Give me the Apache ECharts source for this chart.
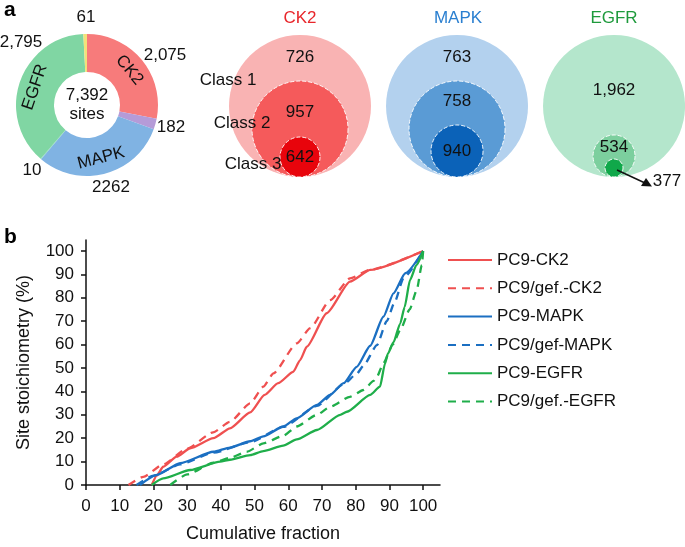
<!DOCTYPE html>
<html><head><meta charset="utf-8">
<script src="https://cdn.jsdelivr.net/npm/echarts@6/dist/echarts.min.js"></script>
<style>html,body{margin:0;padding:0;background:#fff}#c{width:685px;height:547px}</style>
</head><body><div id="c"></div>
<script>
const FONT = '"Liberation Sans", Arial, Helvetica, sans-serif';

// ---- Panel a: donut ----
const donutNames  = ['CK2', 'CK2/MAPK', 'MAPK', 'MAPK/EGFR', 'EGFR', 'EGFR/CK2'];
const donutValues = [2075, 182, 2262, 10, 2795, 61];
const donutLabels = ['2,075', '182', '2262', '10', '2,795', '61'];
const donutTotal  = '7,392';

// ---- Panel a: nested classes ----
const kinases = ['CK2', 'MAPK', 'EGFR'];
const class1  = [726, 763, 1962];
const class2  = [957, 758, 534];
const class3  = [642, 940, 377];
const classNames = ['Class 1', 'Class 2', 'Class 3'];

// ---- Panel b: cumulative curves [cumulative fraction %, stoichiometry %] ----
const xTicks = [0, 10, 20, 30, 40, 50, 60, 70, 80, 90, 100];
const yTicks = [0, 10, 20, 30, 40, 50, 60, 70, 80, 90, 100];
const seriesNames = ['PC9-CK2', 'PC9/gef.-CK2', 'PC9-MAPK', 'PC9/gef-MAPK', 'PC9-EGFR', 'PC9/gef.-EGFR'];
const pc9CK2 = [[19.5,0],[21,4],[22.9,7.8],[26.9,12.1],[30.9,15.7],[37.8,20],[42.7,24.2],[48.7,31],[53,38.5],[57,43.5],[61.5,48.4],[63.5,53.4],[65.5,59.1],[71.4,73.4],[78.3,86.9],[84.3,91.9],[100,100]];
const gefCK2 = [[12.6,0],[17,3.5],[22.9,8.8],[29.9,15.5],[37.7,22.5],[42.7,27],[48.7,34.9],[52.6,42],[55.6,47.7],[62.5,60.5],[66.5,67],[72.4,79],[78.3,88.3],[84.3,92],[100,100]];
const pc9MAPK = [[16,0],[21,4.3],[27.9,9.3],[37.8,14.2],[42.7,16],[48.7,18.7],[52.6,20.8],[58.5,25],[62.5,28.5],[68.5,34.2],[72.4,38.5],[76.4,43.5],[80.3,50.5],[84.3,59.5],[88.2,71.9],[91.2,81.9],[94.7,90.5],[100,100]];
const gefMAPK = [[15,0],[20,4],[27.9,8.8],[37.8,13.8],[48.7,18.3],[58.5,24.8],[68.5,33.8],[76.4,43],[80.3,47.5],[82.3,51],[86.3,59.8],[89.2,70],[91.5,78],[94.2,88.5],[100,100]];
const pc9EGFR = [[19.5,0],[22.9,2.8],[30.9,6.4],[39.8,10],[42.7,10.8],[48.7,12.8],[52.6,14.5],[58.5,16.8],[62.5,19.5],[68.5,23.5],[75.4,30],[77.4,31.3],[84.3,38.5],[87.2,42],[88.7,52],[89.5,56],[91.2,61],[93.2,69],[94.5,76],[96.1,87.6],[98,94],[100,100]];
const gefEGFR = [[25,0],[30,4.5],[37.8,9.5],[42.7,11.6],[47.7,14.2],[52.6,17.8],[58.5,21],[62.5,25],[68.5,30],[72.4,33.4],[78.3,37.7],[82.3,40.6],[85.3,44.5],[86.3,46.3],[88.2,52],[91,60],[93.2,66.2],[96,75],[98.1,83.3],[99.6,94],[100,100]];

// ---------- styles / layout ----------
const donutColors = ['#f77b7b', '#b59bd8', '#80b3e3', '#7fd0c4', '#80d6a3', '#f2e27a'];
const donutLabelPos = [[165,55],[171,127],[111,187],[32,170],[21,42],[86,17]];
const ringColors = [
  ['#f9b3b3', '#b3d1ee', '#b4e6cc'],
  ['#f55a5b', '#5a9bd5', '#7ccf9e'],
  ['#e8040c', '#0b62b8', '#10a84a']
];
const ringRadius = [[71,71,71],[48,48,21],[20,26,9]];
const ringLabelOffset = [[-49,-49,-16],[-17,-28,-9],[0,0,0]];
const titleColors = ['#e8262b', '#2a7fd0', '#1e9a3c'];
const lineColors = ['#ef5050', '#ef5050', '#1b6fc2', '#1b6fc2', '#1fae4a', '#1fae4a'];
const lineData = [pc9CK2, gefCK2, pc9MAPK, gefMAPK, pc9EGFR, gefEGFR];

const fmt = v => v.toLocaleString('en-US');

const classSeries = [class1, class2, class3].map((vals, ci) => ({
  type: 'scatter', name: classNames[ci], xAxisIndex: 1, yAxisIndex: 1, silent: true, z: 3 + ci,
  symbol: 'circle',
  data: kinases.map((k, ki) => ({
    name: k,
    value: [ki, ringRadius[ci][ki]],
    symbolSize: 2 * ringRadius[ci][ki],
    itemStyle: {
      color: ringColors[ci][ki], opacity: 1,
      borderColor: ci === 0 ? 'transparent' : 'rgba(255,255,255,0.9)',
      borderWidth: ci === 0 ? 0 : 1, borderType: 'dashed'
    },
    label: (ci === 2 && ki === 2)
      ? { show: true, formatter: fmt(vals[ki]), position: 'inside', offset: [53, 13], fontSize: 17, color: '#111', fontFamily: FONT }
      : { show: true, formatter: fmt(vals[ki]), position: 'inside', offset: [0, ringLabelOffset[ci][ki]], fontSize: 17, color: '#111', fontFamily: FONT }
  }))
}));

const lineSeries = seriesNames.map((n, i) => ({
  type: 'line', name: n, data: lineData[i], symbol: 'none', showSymbol: false, smooth: 0.2, smoothMonotone: 'x',
  xAxisIndex: 0, yAxisIndex: 0, z: 2,
  lineStyle: { color: lineColors[i], width: 2.3, type: i % 2 === 1 ? [8, 6] : 'solid' },
  itemStyle: { color: lineColors[i] }
}));

const option = {
  animation: false,
  textStyle: { fontFamily: FONT },
  legend: {
    data: seriesNames, orient: 'vertical', left: 442, top: 245,
    itemWidth: 44, itemHeight: 14, itemGap: 8.3,
    itemStyle: { opacity: 0 },
    textStyle: { fontSize: 17, color: '#111', fontFamily: FONT, lineHeight: 20 }
  },
  grid: [
    { left: 86, top: 240, width: 354, height: 245 },
    { left: 221.5, width: 463.5, top: 0, height: 177 }
  ],
  xAxis: [
    { type: 'value', min: 0, max: 105, interval: 10,
      name: 'Cumulative fraction', nameLocation: 'middle', nameGap: 40,
      nameTextStyle: { fontSize: 18, color: '#111', fontFamily: FONT },
      axisLine: { lineStyle: { color: '#111', width: 1.5 } },
      axisTick: { show: true, length: 5, customValues: xTicks, lineStyle: { color: '#111', width: 1.5 } },
      axisLabel: { customValues: xTicks, margin: 13, fontSize: 17, color: '#111', fontFamily: FONT, formatter: v => v > 100 ? '' : v },
      splitLine: { show: false } },
    { type: 'value', gridIndex: 1, min: -0.5, max: 2.452, show: false }
  ],
  yAxis: [
    { type: 'value', min: 0, max: 104.7, interval: 10,
      name: 'Site stoichiometry (%)', nameLocation: 'middle', nameGap: 53,
      nameTextStyle: { fontSize: 18, color: '#111', fontFamily: FONT },
      axisLine: { show: true, lineStyle: { color: '#111', width: 1.5 } },
      axisTick: { show: true, length: 5, customValues: yTicks, lineStyle: { color: '#111', width: 1.5 } },
      axisLabel: { customValues: yTicks, margin: 12, fontSize: 17, color: '#111', fontFamily: FONT, formatter: v => v > 100 ? '' : v },
      splitLine: { show: false } },
    { type: 'value', gridIndex: 1, min: 0, max: 177, show: false }
  ],
  series: [
    {
      type: 'pie', name: 'sites', center: [87, 105], radius: [33, 71], startAngle: 90, clockwise: true,
      silent: true, avoidLabelOverlap: false,
      data: donutNames.map((n, i) => ({ name: n, value: donutValues[i], itemStyle: { color: donutColors[i] } })),
      label: { show: true, position: 'outside', formatter: p => donutLabels[p.dataIndex], fontSize: 17, color: '#111', fontFamily: FONT },
      labelLine: { show: false },
      labelLayout: p => ({ x: donutLabelPos[p.dataIndex][0], y: donutLabelPos[p.dataIndex][1], align: 'center', verticalAlign: 'middle', moveOverlap: null, hideOverlap: false })
    },
    {
      type: 'pie', name: 'names', center: [87, 105], radius: [33, 71], startAngle: 90, clockwise: true,
      silent: true, z: 3,
      data: donutNames.map((n, i) => ({ name: n, value: donutValues[i], itemStyle: { color: 'rgba(0,0,0,0)' } })),
      label: { show: true, position: 'inside', rotate: 'tangential', fontSize: 17, color: '#111', fontFamily: FONT,
        formatter: p => (['CK2', 'MAPK', 'EGFR'].includes(p.name) ? p.name : '') },
      labelLine: { show: false }
    },
    ...classSeries,
    ...lineSeries
  ],
  graphic: [
    { type: 'text', left: 4, top: 0, style: { text: 'a', font: 'bold 21px ' + FONT, fill: '#000' } },
    { type: 'text', left: 4, top: 227, style: { text: 'b', font: 'bold 21px ' + FONT, fill: '#000' } },
    { type: 'text', x: 87, y: 105, style: { text: donutTotal + '\nsites', font: '17px ' + FONT, fill: '#111', align: 'center', verticalAlign: 'middle', lineHeight: 19 }, z: 10 },
    ...kinases.map((k, i) => ({ type: 'text', x: [300, 458, 614][i], y: 18, style: { text: k, font: '17px ' + FONT, fill: titleColors[i], align: 'center', verticalAlign: 'middle' } })),
    ...classNames.map((c, i) => ({ type: 'text', x: [228, 242, 253][i], y: [80, 123, 164][i], z: 20, style: { text: c, font: '17px ' + FONT, fill: '#111', align: 'center', verticalAlign: 'middle' } })),
    { type: 'line', z: 20, shape: { x1: 617, y1: 170, x2: 645, y2: 183 }, style: { stroke: '#111', lineWidth: 1.5 } },
    { type: 'polygon', z: 20, shape: { points: [[652, 186.5], [641, 186], [646, 178]] }, style: { fill: '#111' } }
  ]
};

const chart = echarts.init(document.getElementById('c'), null, { renderer: 'canvas' });
chart.setOption(option);
</script>
</body></html>
